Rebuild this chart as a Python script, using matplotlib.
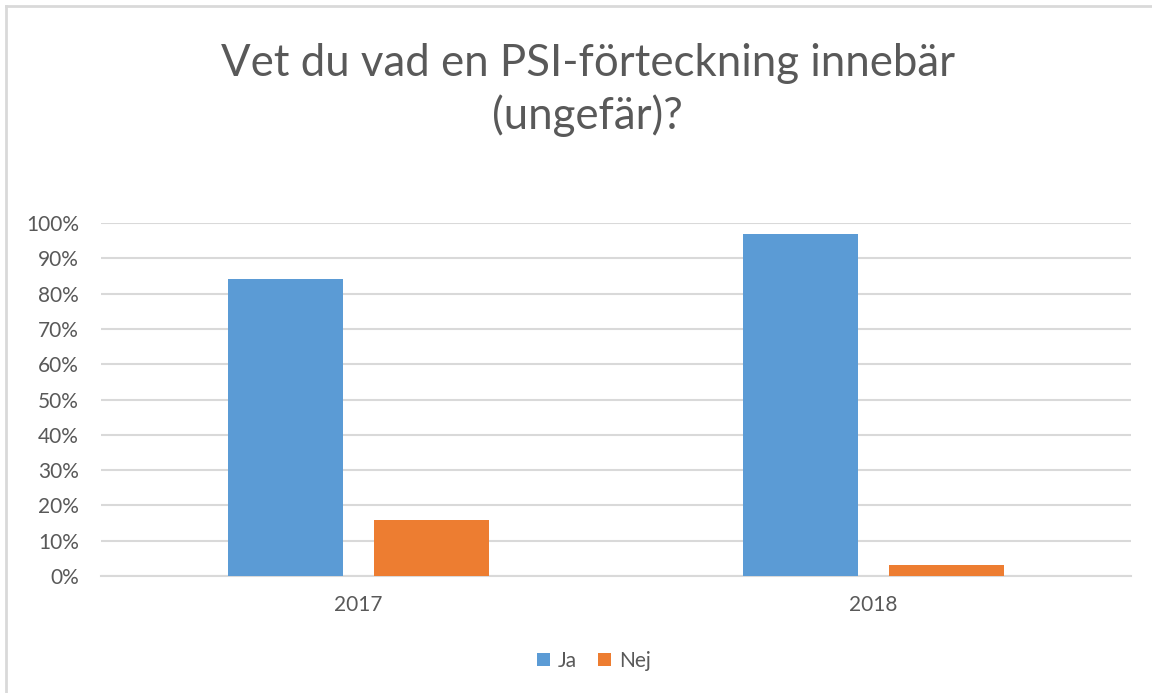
import matplotlib
matplotlib.use('Agg')
import matplotlib.pyplot as plt
from matplotlib.lines import Line2D
from matplotlib.ticker import PercentFormatter
import numpy as np

# data
years = ['2017', '2018']
ja = [0.84, 0.97]
nej = [0.16, 0.03]

title = 'Vet du vad en PSI-förteckning innebär\n(ungefär)?'
blue = '#5B9BD5'
orange = '#ED7D31'
grey_text = '#595959'
grid_col = '#D9D9D9'

plt.rcParams['font.family'] = ['Lato', 'DejaVu Sans']

fig = plt.figure(figsize=(11.52, 6.93), dpi=100)
ax = fig.add_axes([101 / 1152, 1 - 576 / 693, 1030 / 1152, 353 / 693])

x = np.arange(len(years))
w = 0.223
ax.bar(x - 0.1417, ja, width=w, color=blue, label='Ja', zorder=3)
ax.bar(x + 0.1417, nej, width=w, color=orange, label='Nej', zorder=3)

ax.set_xlim(-0.5, 1.5)
ax.set_ylim(0, 1)
ax.set_yticks(np.arange(0, 1.01, 0.1))
ax.yaxis.set_major_formatter(PercentFormatter(1.0, decimals=0))
ax.set_xticks(x)
ax.set_xticklabels(years)
ax.tick_params(axis='y', length=0, pad=16, labelsize=15, labelcolor=grey_text)
ax.tick_params(axis='x', length=0, pad=14, labelsize=15, labelcolor=grey_text)

ax.grid(axis='y', color=grid_col, linewidth=1.5, zorder=0)
for s in ['top', 'right', 'left']:
    ax.spines[s].set_visible(False)
ax.spines['bottom'].set_color(grid_col)
ax.spines['bottom'].set_linewidth(1.5)

fig.text(0.51, 0.87, title, ha='center', va='center', fontsize=31.5,
         color=grey_text, linespacing=1.3)

fig.legend(loc='center', bbox_to_anchor=(594 / 1152, 1 - 661 / 693),
           ncol=2, frameon=False, fontsize=15, labelcolor=grey_text,
           handlelength=0.6, handleheight=0.6, handletextpad=0.4,
           columnspacing=1.0)

# chart border (top and left visible in the screenshot)
fig.add_artist(Line2D([6 / 1152, 6 / 1152], [0, 1 - 6 / 693], color='#D9D9D9',
                      linewidth=2, transform=fig.transFigure))
fig.add_artist(Line2D([6 / 1152, 1], [1 - 6 / 693, 1 - 6 / 693], color='#D9D9D9',
                      linewidth=2, transform=fig.transFigure))

plt.savefig('out.png', dpi=100)
